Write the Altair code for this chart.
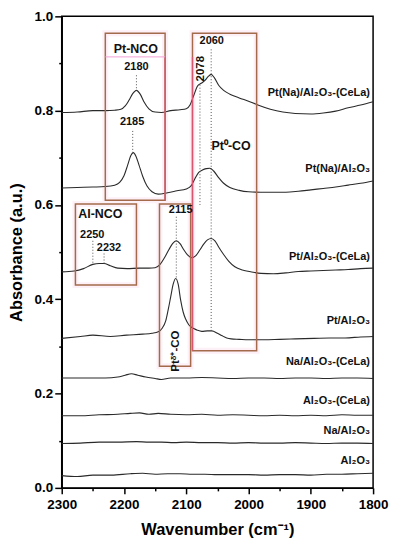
import altair as alt
import pandas as pd

# ---------------- data ----------------
series_names = ["Pt(Na)/Al₂O₃-(CeLa)", "Pt(Na)/Al₂O₃", "Pt/Al₂O₃-(CeLa)", "Pt/Al₂O₃",
                "Na/Al₂O₃-(CeLa)", "Al₂O₃-(CeLa)", "Na/Al₂O₃", "Al₂O₃"]

wn_1 = [2300, 2275, 2250, 2230, 2215, 2205, 2198, 2192, 2186, 2180, 2174, 2168, 2160, 2150, 2140, 2125,
        2110, 2100, 2094, 2088, 2082, 2076, 2070, 2065, 2060, 2055, 2048, 2040, 2030, 2015, 2000, 1985,
        1965, 1945, 1925, 1900, 1880, 1860, 1840, 1820, 1800]
ab_1 = [0.796, 0.797, 0.800, 0.800, 0.801, 0.803, 0.810, 0.822, 0.836, 0.843, 0.835, 0.819, 0.804, 0.797,
        0.796, 0.800, 0.802, 0.804, 0.812, 0.832, 0.852, 0.858, 0.864, 0.872, 0.877, 0.870, 0.854, 0.843,
        0.835, 0.827, 0.820, 0.812, 0.803, 0.797, 0.794, 0.793, 0.795, 0.799, 0.806, 0.812, 0.819]

wn_2 = [2300, 2275, 2250, 2230, 2215, 2207, 2200, 2194, 2189, 2185, 2181, 2176, 2170, 2163, 2155, 2145,
        2130, 2115, 2100, 2092, 2086, 2080, 2074, 2068, 2062, 2056, 2048, 2040, 2030, 2015, 2000, 1980,
        1960, 1940, 1920, 1900, 1880, 1860, 1840, 1820, 1800]
ab_2 = [0.636, 0.637, 0.638, 0.639, 0.642, 0.648, 0.662, 0.685, 0.705, 0.711, 0.704, 0.685, 0.661, 0.640,
        0.628, 0.623, 0.626, 0.630, 0.634, 0.641, 0.656, 0.669, 0.674, 0.677, 0.678, 0.672, 0.658, 0.646,
        0.637, 0.631, 0.628, 0.627, 0.627, 0.627, 0.629, 0.632, 0.635, 0.638, 0.642, 0.646, 0.651]

wn_3 = [2300, 2280, 2265, 2250, 2240, 2232, 2222, 2210, 2195, 2175, 2160, 2150, 2142, 2135, 2128, 2122,
        2116, 2110, 2104, 2098, 2091, 2085, 2078, 2072, 2066, 2060, 2054, 2048, 2040, 2032, 2022, 2010,
        1995, 1980, 1960, 1940, 1920, 1900, 1880, 1860, 1840, 1820, 1800]
ab_3 = [0.458, 0.460, 0.465, 0.474, 0.476, 0.476, 0.471, 0.466, 0.465, 0.466, 0.466, 0.467, 0.474, 0.488,
        0.505, 0.518, 0.524, 0.518, 0.505, 0.494, 0.488, 0.492, 0.505, 0.517, 0.526, 0.529, 0.524, 0.511,
        0.495, 0.481, 0.469, 0.462, 0.458, 0.455, 0.454, 0.456, 0.459, 0.460, 0.461, 0.462, 0.463, 0.465,
        0.466]

wn_4 = [2300, 2270, 2250, 2222, 2196, 2170, 2155, 2145, 2139, 2133, 2129, 2125, 2121, 2117, 2113, 2109,
        2105, 2101, 2096, 2091, 2083, 2075, 2066, 2059, 2050, 2043, 2035, 2028, 2015, 2000, 1975, 1950,
        1925, 1895, 1870, 1845, 1820, 1800]
ab_4 = [0.317, 0.321, 0.324, 0.321, 0.324, 0.326, 0.328, 0.331, 0.338, 0.354, 0.378, 0.405, 0.432, 0.444,
        0.432, 0.398, 0.373, 0.358, 0.346, 0.340, 0.335, 0.332, 0.333, 0.333, 0.328, 0.323, 0.318, 0.316,
        0.315, 0.314, 0.314, 0.315, 0.316, 0.317, 0.318, 0.318, 0.320, 0.321]

wn_5 = [2300, 2260, 2230, 2210, 2198, 2188, 2178, 2165, 2150, 2140, 2125, 2100, 2075, 2050, 2025, 2000,
        1975, 1950, 1925, 1900, 1875, 1850, 1825, 1800]
ab_5 = [0.233, 0.233, 0.233, 0.235, 0.239, 0.242, 0.239, 0.235, 0.232, 0.230, 0.233, 0.233, 0.234, 0.233,
        0.232, 0.233, 0.233, 0.232, 0.233, 0.233, 0.232, 0.233, 0.233, 0.232]

wn_6 = [2300, 2270, 2240, 2210, 2190, 2175, 2160, 2145, 2125, 2100, 2075, 2050, 2025, 2000, 1975, 1950,
        1925, 1900, 1875, 1850, 1825, 1800]
ab_6 = [0.153, 0.153, 0.155, 0.156, 0.158, 0.159, 0.156, 0.158, 0.156, 0.155, 0.156, 0.154, 0.155, 0.154,
        0.153, 0.154, 0.153, 0.154, 0.153, 0.155, 0.154, 0.154]

wn_7 = [2300, 2270, 2240, 2210, 2180, 2160, 2140, 2120, 2100, 2075, 2050, 2025, 2000, 1975, 1950, 1925,
        1900, 1875, 1850, 1825, 1800]
ab_7 = [0.094, 0.095, 0.097, 0.097, 0.098, 0.097, 0.097, 0.096, 0.097, 0.096, 0.096, 0.095, 0.096, 0.095,
        0.095, 0.096, 0.095, 0.094, 0.095, 0.095, 0.094]

wn_8 = [2300, 2275, 2250, 2220, 2190, 2170, 2150, 2130, 2110, 2090, 2070, 2050, 2025, 2000, 1975, 1950,
        1925, 1900, 1875, 1850, 1825, 1800]
ab_8 = [0.026, 0.024, 0.027, 0.027, 0.030, 0.031, 0.029, 0.030, 0.030, 0.029, 0.029, 0.028, 0.028, 0.028,
        0.027, 0.028, 0.028, 0.027, 0.029, 0.029, 0.030, 0.031]

# series labels at right
label_wn = 1805
label_y = [0.838, 0.677, 0.490, 0.354, 0.266, 0.184, 0.120, 0.057]

# boxes
box_x1 = [2230, 2090, 2278, 2143]
box_x2 = [2134, 1987, 2180, 2093]
box_y1 = [0.610, 0.291, 0.430, 0.258]
box_y2 = [0.964, 0.964, 0.602, 0.602]

# reddish box edges (below the title band)
red_wn = [2134, 2090]
red_y1 = [0.610, 0.291]
red_y2 = [0.914, 0.914]

# box titles
title_text = ["Pt-NCO", "Al-NCO", "Pt⁰-CO"]
title_wn = [2181, 2238, 2028]
title_y = [0.930, 0.580, 0.725]

# peak labels
peak_text = ["2180", "2185", "2250", "2232", "2115", "2060"]
peak_wn = [2180, 2187, 2251, 2224, 2109, 2059]
peak_y = [0.892, 0.775, 0.536, 0.509, 0.590, 0.947]

# rotated labels
rot_text = ["2078", "Ptᵟ⁺-CO"]
rot_wn = [2077, 2116]
rot_y = [0.889, 0.290]

# dotted guide lines
dot_wn = [2180, 2186, 2250, 2232, 2116, 2078, 2060]
dot_y1 = [0.875, 0.757, 0.524, 0.497, 0.575, 0.855, 0.930]
dot_y2 = [0.843, 0.711, 0.474, 0.476, 0.444, 0.600, 0.333]

# ---------------- build ----------------
wn_lists = [wn_1, wn_2, wn_3, wn_4, wn_5, wn_6, wn_7, wn_8]
ab_lists = [ab_1, ab_2, ab_3, ab_4, ab_5, ab_6, ab_7, ab_8]
rows = []
for name, wns, abs_ in zip(series_names, wn_lists, ab_lists):
    for w, a in zip(wns, abs_):
        rows.append({"series": name, "wn": w, "absorbance": a})
df = pd.DataFrame(rows)

df_lab = pd.DataFrame({"text": series_names, "wn": [label_wn] * len(series_names), "y": label_y})
df_box = pd.DataFrame({"x1": box_x1, "x2": box_x2, "y1": box_y1, "y2": box_y2})
df_red = pd.DataFrame({"wn": red_wn, "y1": red_y1, "y2": red_y2})
df_title = pd.DataFrame({"text": title_text, "wn": title_wn, "y": title_y})
df_peak = pd.DataFrame({"text": peak_text, "wn": peak_wn, "y": peak_y})
df_rot = pd.DataFrame({"text": rot_text, "wn": rot_wn, "y": rot_y})
df_dot = pd.DataFrame({"wn": dot_wn, "y1": dot_y1, "y2": dot_y2})
df_sep = pd.DataFrame({"x1": [box_x1[0]], "x2": [box_x2[0]], "y": [0.914]})

FONT = "Liberation Sans"
x_scale = alt.Scale(domain=[1800, 2300], reverse=True, nice=False, zero=False)
y_scale = alt.Scale(domain=[0, 1], nice=False, zero=False)

x_axis = alt.Axis(
    title="Wavenumber (cm⁻¹)",
    values=[1800, 1850, 1900, 1950, 2000, 2050, 2100, 2150, 2200, 2250, 2300],
    format="d",
    labelExpr="datum.value % 100 === 0 ? datum.label : ''",
    tickSize={"condition": {"test": "datum.value % 100 === 0", "value": 6}, "value": 3},
    grid=False, labelFlush=False, labelOverlap=False,
    labelPadding=4, titlePadding=10,
    labelFontSize=13.5, titleFontSize=16.5,
)
y_axis = alt.Axis(
    title="Absorbance (a.u.)",
    values=[0, 0.1, 0.2, 0.3, 0.4, 0.5, 0.6, 0.7, 0.8, 0.9, 1.0],
    format=".1f",
    labelExpr="round(datum.value * 10) % 2 === 0 ? datum.label : ''",
    tickSize={"condition": {"test": "round(datum.value * 10) % 2 === 0", "value": 7}, "value": 3},
    grid=False, labelOverlap=False,
    labelPadding=2, titlePadding=10,
    labelFontSize=13.5, titleFontSize=16.5,
)


def X(field):
    return alt.X(field, scale=x_scale, axis=x_axis)


def Y(field):
    return alt.Y(field, scale=y_scale, axis=y_axis)


lines = alt.Chart(df).mark_line(color="#2a2a2a", strokeWidth=1.1, interpolate="monotone").encode(
    x=X("wn:Q"), y=Y("absorbance:Q"), detail="series:N",
)

BOX = "#a36b4c"
halo = alt.Chart(df_box).mark_rect(filled=False, stroke="#fdf0f7", strokeWidth=6).encode(
    x=X("x1:Q"), x2="x2:Q", y=Y("y1:Q"), y2="y2:Q",
)
boxes = alt.Chart(df_box).mark_rect(filled=False, stroke=BOX, strokeWidth=1.5).encode(
    x=X("x1:Q"), x2="x2:Q", y=Y("y1:Q"), y2="y2:Q",
)
red_edges = alt.Chart(df_red).mark_rule(color="#d8566e", strokeWidth=1.3).encode(
    x=X("wn:Q"), y=Y("y1:Q"), y2="y2:Q",
)

sep = alt.Chart(df_sep).mark_rule(color="#f2a0d6", strokeWidth=1).encode(
    x=X("x1:Q"), x2="x2:Q", y=Y("y:Q"),
)

dots = alt.Chart(df_dot).mark_rule(color="#555555", strokeWidth=1, strokeDash=[1, 2]).encode(
    x=X("wn:Q"), y=Y("y1:Q"), y2="y2:Q",
)

labels = alt.Chart(df_lab).mark_text(align="right", baseline="middle", font=FONT, fontSize=11,
                                     fontWeight="bold", color="#111111").encode(
    x=X("wn:Q"), y=Y("y:Q"), text="text:N",
)

titles = alt.Chart(df_title).mark_text(align="center", baseline="middle", font=FONT, fontSize=12.5,
                                       fontWeight="bold", color="#111111").encode(
    x=X("wn:Q"), y=Y("y:Q"), text="text:N",
)

peaks = alt.Chart(df_peak).mark_text(align="center", baseline="middle", font=FONT, fontSize=11,
                                     fontWeight="bold", color="#111111").encode(
    x=X("wn:Q"), y=Y("y:Q"), text="text:N",
)

rots = alt.Chart(df_rot).mark_text(align="center", baseline="middle", angle=270, font=FONT, fontSize=11.5,
                                   fontWeight="bold", color="#111111").encode(
    x=X("wn:Q"), y=Y("y:Q"), text="text:N",
)

chart = alt.layer(halo, lines, boxes, red_edges, sep, dots, labels, titles, peaks, rots).properties(
    width=313, height=474,
    padding={"left": 0, "top": 0, "right": 0, "bottom": 0},
).configure_view(
    stroke="black", strokeWidth=1.5,
).configure_axis(
    labelFont=FONT, titleFont=FONT, labelFontWeight="bold", titleFontWeight="bold",
    labelColor="black", titleColor="black",
    domainColor="black", domainWidth=1.5, tickColor="black", tickWidth=1.5,
)

chart.save("out.html", embed_options={"renderer": "svg", "actions": False})
